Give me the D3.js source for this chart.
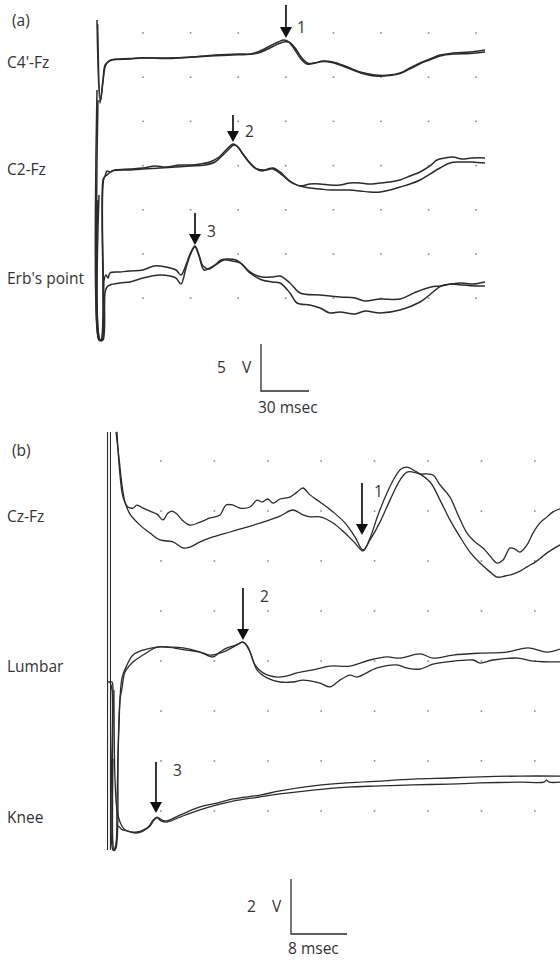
<!DOCTYPE html>
<html><head><meta charset="utf-8">
<script src="https://cdn.jsdelivr.net/npm/d3@7"></script>
<style>
html,body{margin:0;padding:0;background:#fff;}
svg text{font-family:"Open Sans",Lato,sans-serif;fill:#333;}
</style></head>
<body>
<svg id="chart" width="560" height="960"></svg>
<script>
// ---------- DATA (time in ms, amplitude in µV) ----------
// Panel (a)
const traceNamesA = ["C4'-Fz", "C2-Fz", "Erb's point"];
const c4Fz1 = [[0,4.26],[1.9,-4.57],[3.75,-2.13],[5,-0.53],[6.9,-0.21],[9.4,0],[20.6,0.11],[28.75,0.21],[42.5,0.21],[58.75,0.32],[73.75,0.53],[88.1,0.64],[95.6,0.64],[101.9,0.96],[108.1,1.49],[113.1,1.91],[116.9,2.13],[120,1.91],[123.75,1.06],[127.5,0.11],[131.25,-0.43],[136.25,-0.32],[141.25,-0.11],[147.5,-0.21],[155,-0.64],[164.4,-1.28],[173.75,-1.6],[183.1,-1.6],[189.4,-1.38],[195.6,-0.85],[201.9,-0.32],[208.1,0.11],[214.4,0.53],[222.5,0.74],[233.1,0.85],[242.5,1.06]];
const c4Fz2 = [[0.4,3.8],[2.2,-4.3],[4,-1.9],[5.3,-0.6],[7.5,-0.1],[10,0.05],[20.6,0.15],[28.75,0.25],[42.5,0.15],[58.75,0.3],[73.75,0.45],[88.1,0.55],[95.6,0.6],[101.9,0.8],[108.1,1.28],[113.1,1.7],[117.5,1.95],[120.6,1.85],[124.4,1.15],[128.1,0.2],[131.9,-0.35],[136.25,-0.3],[141.25,-0.15],[147.5,-0.3],[155,-0.75],[164.4,-1.35],[173.75,-1.7],[183.1,-1.65],[189.4,-1.45],[195.6,-0.95],[201.9,-0.4],[208.1,0.02],[214.4,0.43],[222.5,0.64],[233.1,0.7],[242.5,0.85]];
const c2Fz1 = [[0,8.51],[1.25,-18.09],[2.5,-18.09],[3.75,-1.06],[5,-0.64],[6.25,-0.11],[8.1,-0.21],[11.25,0],[20.6,0.11],[28.75,0.21],[36.25,0.43],[42.5,0.32],[51.9,0.53],[58.75,0.53],[64.4,0.64],[70.6,0.85],[75.6,1.28],[80,2.02],[83.1,2.55],[85,2.77],[87.5,2.55],[90.6,1.81],[94.4,0.96],[98.75,0.21],[103.1,-0.11],[106.9,0.11],[110,0.21],[114.4,-0.21],[120.6,-1.17],[126.9,-1.7],[133.1,-1.49],[139.4,-1.49],[145.6,-1.6],[151.9,-1.6],[158.1,-1.38],[164.4,-1.38],[170.6,-1.49],[176.9,-1.38],[183.1,-1.28],[189.4,-1.06],[195.6,-0.64],[201.9,-0.21],[208.1,0.43],[212.5,1.06],[217.5,1.28],[222.5,1.38],[228.1,1.17],[234.4,1.28],[242.5,1.28]];
const c2Fz2 = [[0.6,7.45],[1.9,-18.09],[3.1,-18.09],[4.4,-0.85],[6.25,-0.53],[9.4,-0.11],[20.6,0],[28.75,0.11],[39.4,0.21],[49.4,0.32],[58.75,0.43],[67.5,0.53],[73.75,0.85],[78.1,1.49],[81.9,2.13],[85.6,2.66],[88.1,2.45],[91.25,1.7],[95.6,0.74],[100,0.11],[105,0],[110,0.11],[115.6,-0.53],[121.9,-1.38],[126.9,-1.7],[133.1,-1.91],[139.4,-2.02],[145.6,-2.13],[151.9,-2.13],[158.1,-2.13],[164.4,-2.23],[170.6,-2.34],[176.9,-2.34],[183.1,-2.13],[189.4,-1.81],[195.6,-1.49],[201.9,-1.06],[208.1,-0.43],[214.4,0.21],[220.6,0.74],[226.9,0.85],[234.4,0.85],[242.5,0.74]];
const erb1 = [[0.6,7.98],[1.25,-6.91],[3.1,-6.91],[4.4,-0.53],[5.6,0],[6.9,-0.32],[8.1,0.21],[14.4,0.32],[20.6,0.43],[28.75,0.53],[35.6,0.96],[43.1,0.85],[49.4,0.53],[52.5,0],[55.6,1.06],[58.75,2.45],[61.25,3.09],[63.75,2.13],[66.25,0.96],[70,0.64],[73.75,1.06],[77.5,1.6],[81.9,1.7],[86.9,1.6],[91.25,1.06],[95.6,0.32],[103.1,-0.21],[109.4,-0.21],[114.4,-0.11],[120.6,-0.85],[126.9,-1.91],[139.4,-2.13],[151.9,-2.34],[161.25,-2.45],[167.5,-2.77],[176.9,-2.55],[189.4,-2.55],[199.4,-1.81],[208.75,-1.28],[215,-1.17],[221.25,-0.96],[227.5,-0.85],[235,-0.96],[242.5,-0.74]];
const erb2 = [[1.25,8.51],[1.9,-6.91],[3.75,-6.91],[5,-1.91],[6.25,-1.28],[8.1,-1.06],[14.4,-0.85],[20.6,-0.74],[28.75,-0.32],[39.4,0],[45.6,-0.11],[49.4,-0.32],[52.5,-0.96],[55.6,0.74],[58.75,2.34],[61.25,2.98],[63.75,2.02],[66.9,0.53],[70.6,0.74],[75,1.17],[79.4,1.6],[84.4,1.49],[89.4,1.28],[95.6,0.21],[103.1,-0.53],[109.4,-0.74],[114.4,-0.85],[120.6,-1.91],[125,-2.98],[133.1,-3.19],[139.4,-3.51],[145.6,-4.04],[151.9,-3.94],[161.25,-4.15],[167.5,-3.83],[176.9,-4.04],[189.4,-3.72],[201.9,-2.87],[210,-1.81],[215,-1.17],[221.25,-0.96],[227.5,-1.06],[236.9,-1.17],[242.5,-1.17]];
const arrowTimesA = [118.1, 85, 61.25];
const arrowTipsA = [2.34, 2.98, 3.19];
const arrowLabelsA = ["1", "2", "3"];
const scaleBarA = {amp: 5, time: 30, ampLabel: "5", unitLabel: "V", timeLabel: "30 msec"};

// Panel (b)
const traceNamesB = ["Cz-Fz", "Lumbar", "Knee"];
const czFz1 = [[1.14,2.84],[1.29,2.18],[1.57,1.27],[2,0.47],[2.71,0.11],[3.43,0.07],[4,0.18],[4.86,0.07],[5.86,-0.04],[6.86,-0.15],[7.71,-0.36],[8.43,-0.11],[9,-0.04],[9.71,-0.15],[10.43,-0.36],[11.57,-0.55],[13,-0.44],[14.43,-0.29],[15.86,-0.18],[16.71,0.18],[17.71,0.18],[18.71,0.07],[20.14,0.11],[21.14,0.36],[21.86,0.29],[22.71,0.4],[23.43,0.25],[24.43,0.4],[25.86,0.47],[26.86,0.65],[27.71,0.8],[28.71,0.55],[30.14,0.29],[32,-0.07],[33.71,-0.47],[35.14,-0.98],[36.29,-1.45],[37.29,-1.09],[38.71,-0.44],[40.14,0.36],[41.57,1.09],[42.57,1.38],[43.43,1.38],[44.43,1.31],[45.43,1.31],[46.29,1.27],[47.29,0.91],[48.71,0.47],[49.86,-0.18],[51.14,-0.84],[52.29,-1.16],[53.43,-1.38],[54.43,-1.67],[55.43,-1.93],[56.29,-1.82],[57.29,-1.38],[58,-1.42],[58.71,-1.53],[59.71,-1.27],[60.57,-0.84],[61.57,-0.47],[62.57,-0.25],[63.43,-0.07],[64.43,0.04]];
const czFz2 = [[1,2.84],[1.43,1.89],[1.86,0.91],[2.29,0.29],[3,-0.15],[4.43,-0.55],[5.86,-0.84],[7.29,-1.09],[9.14,-1.16],[10.57,-1.38],[11.57,-1.35],[13,-1.16],[14.86,-0.98],[17.29,-0.8],[19.71,-0.62],[22,-0.44],[24.43,-0.22],[26.29,0],[27.71,-0.18],[28.71,-0.25],[30.14,-0.25],[32,-0.47],[33.71,-0.84],[35.14,-1.2],[36.29,-1.49],[37.29,-1.02],[38.43,-0.18],[39.71,0.62],[40.86,1.2],[41.71,1.49],[42.57,1.56],[43.71,1.42],[45.86,1.02],[47.29,0.36],[48.71,-0.36],[50.14,-0.98],[51.57,-1.53],[53,-1.93],[54.43,-2.25],[55.43,-2.44],[56.57,-2.4],[57.71,-2.33],[58.71,-2.22],[59.71,-2.07],[61.14,-1.85],[62.57,-1.56],[64.43,-1.27]];
const lumbar1 = [[-0.14,-0.8],[0.43,-0.8],[0.57,-1.09],[0.71,-6.91],[1,-6.84],[1.29,-3.64],[1.43,-2.36],[1.86,-0.65],[2.57,-0.18],[3.43,0.18],[4.86,0.36],[6.86,0.47],[8.71,0.47],[10.57,0.44],[13,0.29],[14.86,0.11],[15.86,0.29],[16.86,0.44],[18.29,0.55],[19.14,0.65],[19.86,0.47],[20.86,-0.18],[22,-0.47],[24,-0.62],[25.43,-0.58],[26.86,-0.47],[29.14,-0.36],[31.57,-0.22],[34.43,-0.22],[37.29,0],[39.71,0.11],[41.57,0.07],[44.43,0.22],[46.29,0.07],[49.14,0.18],[53,0.25],[56.86,0.29],[59.86,0.44],[62.57,0.29],[64.43,0.4]];
const lumbar2 = [[0.14,-0.8],[0.43,-1.09],[0.57,-6.91],[0.86,-6.91],[1.14,-5.09],[1.57,-1.45],[1.86,-1.02],[2.29,-0.44],[3.43,-0.07],[4.86,0.18],[6.86,0.47],[8.29,0.47],[11.14,0.36],[13,0.29],[14.43,0.18],[16.29,0.29],[17.71,0.47],[19.14,0.65],[20.14,0.29],[21.14,-0.36],[22.57,-0.65],[24.43,-0.8],[26.29,-0.8],[27.71,-0.73],[30.14,-0.84],[31.57,-0.98],[33,-0.73],[34.43,-0.55],[35.43,-0.62],[38.29,-0.29],[41.14,-0.18],[42.57,-0.29],[44.43,-0.33],[46.29,-0.15],[48.29,-0.07],[52,0],[53,-0.11],[54.86,0],[58.43,0.07],[60.57,-0.04],[64.43,-0.07]];
const knee1 = [[0.71,4.0],[0.86,0.73],[1.14,-0.36],[1.57,-0.8],[2.14,-1.05],[3,-1.16],[4,-1.16],[4.86,-1.09],[5.71,-0.95],[6.29,-0.73],[6.86,-0.62],[7.57,-0.73],[8.29,-0.76],[10.14,-0.55],[13,-0.25],[15.43,-0.11],[17.71,0.04],[21.57,0.18],[24.43,0.33],[29.14,0.51],[34,0.62],[38.71,0.69],[43.43,0.76],[48.71,0.8],[53,0.84],[58.71,0.87],[64.43,0.87]];
const knee2 = [[0.57,1.5],[0.71,-1.8],[1,-1.6],[1.29,-0.95],[1.86,-1.08],[2.71,-1.13],[3.86,-1.2],[4.86,-1.13],[5.86,-0.95],[6.43,-0.73],[6.86,-0.65],[7.43,-0.76],[8.29,-0.8],[10.14,-0.62],[13,-0.36],[15.43,-0.18],[17.71,-0.04],[21.57,0.11],[24.43,0.22],[29.14,0.36],[34,0.47],[38.71,0.51],[43.43,0.55],[48.71,0.58],[53,0.62],[58.71,0.65],[62.14,0.65],[62.5,0.72],[62.9,0.65],[64.43,0.65]];
const stimulusTimesB = [-0.21, 0.21];
const arrowTimesB = [36.14, 19.14, 6.71];
const arrowTipsB = [-0.91, 0.73, -0.47];
const arrowLabelsB = ["1", "2", "3"];
const scaleBarB = {amp: 2, time: 8, ampLabel: "2", unitLabel: "V", timeLabel: "8 msec"};

// ---------- LAYOUT ----------
const svg = d3.select("#chart");
const ink = "#2b2b2b";
const FS = 15.5;

function panel(cfg) {
  const g = svg.append("g");
  const x = d3.scaleLinear().domain([0, cfg.msPer]).range([cfg.x0, cfg.x0 + cfg.pxPerTime]);
  const ys = cfg.bases.map(b => d3.scaleLinear().domain([0, cfg.uvPer]).range([b, b - cfg.pxPerAmp]));
  // dot grid
  const gx = d3.range(cfg.grid.nx).map(i => cfg.grid.x0 + i * cfg.grid.dx);
  const gy = d3.range(cfg.grid.ny).map(j => cfg.grid.y0 + j * cfg.grid.dy);
  g.append("g").selectAll("rect").data(d3.cross(gx, gy)).join("rect")
    .attr("x", d => d[0] - 0.8).attr("y", d => d[1] - 0.8).attr("width", 1.6).attr("height", 1.6)
    .attr("fill", "#8a8a8a");
  // stimulus lines
  if (cfg.stim) {
    g.append("g").selectAll("line").data(cfg.stim).join("line")
      .attr("x1", d => x(d)).attr("x2", d => x(d))
      .attr("y1", cfg.stimY[0]).attr("y2", cfg.stimY[1])
      .attr("stroke", ink).attr("stroke-width", 1.1);
  }
  // traces
  cfg.traces.forEach((pair, i) => {
    const line = d3.line().x(d => x(d[0])).y(d => ys[i](d[1])).curve(d3.curveCatmullRom.alpha(0.5));
    pair.forEach(tr => {
      g.append("path").attr("d", line(tr)).attr("fill", "none")
        .attr("stroke", ink).attr("stroke-width", cfg.lw).attr("stroke-linejoin", "round");
    });
  });
  // trace names
  g.append("g").selectAll("text").data(cfg.names).join("text")
    .attr("x", 7).attr("y", (d, i) => cfg.nameY[i]).attr("font-size", FS).text(d => d);
  g.append("text").attr("x", 12).attr("y", cfg.tagY).attr("font-size", FS).text(cfg.tag);
  // arrows
  cfg.arrowT.forEach((t, i) => {
    const ax = x(t), tip = ys[i](cfg.arrowV[i]);
    g.append("line").attr("x1", ax).attr("x2", ax).attr("y1", tip - cfg.arrowLen[i]).attr("y2", tip - 8)
      .attr("stroke", "#111").attr("stroke-width", 1.7);
    g.append("path").attr("d", `M${ax - 6},${tip - 11}L${ax + 6},${tip - 11}L${ax},${tip}Z`).attr("fill", "#111");
    g.append("text").attr("x", ax + cfg.labDx[i]).attr("y", tip + cfg.labDy[i]).attr("font-size", FS).text(cfg.arrowLab[i]);
  });
  // scale bar
  const sb = cfg.sb, sx = cfg.sbPos[0], sy = cfg.sbPos[1];
  const xs = d3.scaleLinear().domain([0, sb.time]).range([sx, sx + (x(sb.time) - x(0))]);
  const ysb = d3.scaleLinear().domain([0, sb.amp]).range([sy, sy - (ys[0](0) - ys[0](sb.amp))]);
  g.append("path").attr("d", `M${xs(0)},${ysb(sb.amp)}L${xs(0)},${ysb(0)}L${xs(sb.time)},${ysb(0)}`)
    .attr("fill", "none").attr("stroke", ink).attr("stroke-width", 1.3);
  const mid = (ysb(0) + ysb(sb.amp)) / 2;
  g.append("text").attr("x", xs(0) - 44).attr("y", mid + 5).attr("font-size", FS).text(sb.ampLabel);
  g.append("text").attr("x", xs(0) - 19).attr("y", mid + 5).attr("font-size", FS).text(sb.unitLabel);
  g.append("text").attr("x", xs(0) - 3).attr("y", ysb(0) + cfg.sbTextDy).attr("font-size", FS).text(sb.timeLabel);
}

panel({
  msPer: 30, pxPerTime: 48, x0: 97, uvPer: 5, pxPerAmp: 47,
  bases: [60, 170, 275],
  grid: {x0: 143, dx: 47.6, nx: 8, y0: 33, dy: 44.2, ny: 7},
  traces: [[c4Fz1, c4Fz2], [c2Fz1, c2Fz2], [erb1, erb2]],
  lw: 1.5,
  names: traceNamesA, nameY: [68, 175, 284], tag: "(a)", tagY: 26,
  arrowT: arrowTimesA, arrowV: arrowTipsA, arrowLen: [33, 27, 32], arrowLab: arrowLabelsA,
  labDx: [11, 12, 12], labDy: [-5, -5, -8],
  sb: scaleBarA, sbPos: [261, 391], sbTextDy: 22
});

panel({
  msPer: 8, pxPerTime: 56, x0: 109, uvPer: 2, pxPerAmp: 55,
  bases: [510, 660, 800],
  grid: {x0: 161, dx: 53.4, nx: 8, y0: 461, dy: 50, ny: 8},
  stim: stimulusTimesB, stimY: [432, 850],
  traces: [[czFz1, czFz2], [lumbar1, lumbar2], [knee1, knee2]],
  lw: 1.3,
  names: traceNamesB, nameY: [522, 672, 823], tag: "(b)", tagY: 456,
  arrowT: arrowTimesB, arrowV: arrowTipsB, arrowLen: [52, 52, 51], arrowLab: arrowLabelsB,
  labDx: [12, 17, 17], labDy: [-38, -38, -37],
  sb: scaleBarB, sbPos: [291, 934], sbTextDy: 20
});
</script>
</body></html>
